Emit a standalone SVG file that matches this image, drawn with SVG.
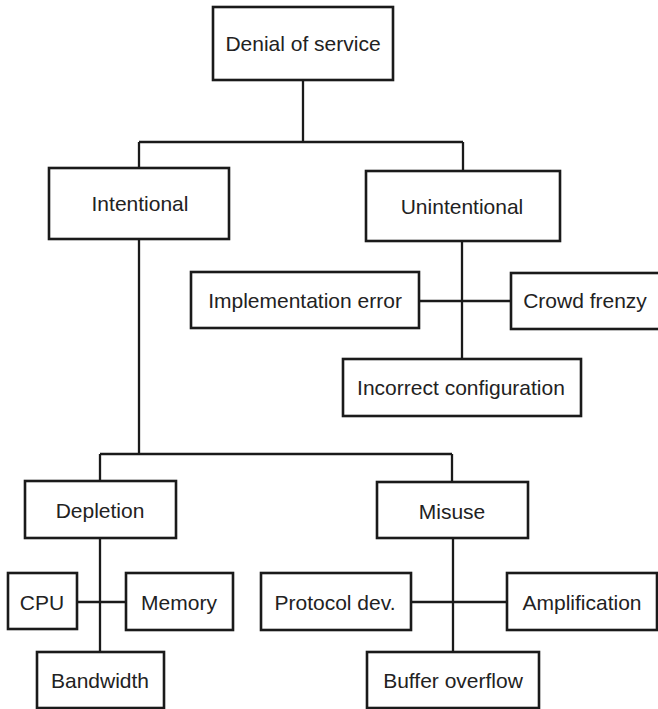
<svg xmlns="http://www.w3.org/2000/svg" width="658" height="709" viewBox="0 0 658 709">
<style>
.box{fill:#fff;stroke:#1a1a1a;stroke-width:2.6}
.lbl{font-family:"Liberation Sans",Arial,sans-serif;font-size:21px;fill:#222;text-anchor:middle;dominant-baseline:central}
.con{fill:none;stroke:#1a1a1a;stroke-width:2.3}
</style>
<rect width="658" height="709" fill="#fff"/>
<g id="connectors">
<path class="con" d="M303 80V142M139 142H463M139 142V168M463 142V171"/>
<path class="con" d="M462 241V359M419 301H511"/>
<path class="con" d="M139 239V454M100 454H452M100 454V481M452 454V482"/>
<path class="con" d="M100 538V652M77 602H126"/>
<path class="con" d="M453 538V652M411 602H507"/>
</g>
<g id="n-dos"><rect class="box" x="213" y="7" width="180" height="73"/><text class="lbl" x="303" y="43">Denial of service</text></g>
<g id="n-intentional"><rect class="box" x="49" y="168" width="180" height="71"/><text class="lbl" x="140" y="203">Intentional</text></g>
<g id="n-unintentional"><rect class="box" x="366" y="171" width="194" height="70"/><text class="lbl" x="462" y="206">Unintentional</text></g>
<g id="n-impl"><rect class="box" x="191" y="272" width="228" height="56"/><text class="lbl" x="305" y="300">Implementation error</text></g>
<g id="n-crowd"><rect class="box" x="511" y="273" width="152" height="56"/><text class="lbl" x="585" y="300">Crowd frenzy</text></g>
<g id="n-incorrect"><rect class="box" x="343" y="359" width="238" height="57"/><text class="lbl" x="461" y="387">Incorrect configuration</text></g>
<g id="n-depletion"><rect class="box" x="25" y="481" width="151" height="57"/><text class="lbl" x="100" y="510">Depletion</text></g>
<g id="n-misuse"><rect class="box" x="377" y="482" width="151" height="56"/><text class="lbl" x="452" y="511">Misuse</text></g>
<g id="n-cpu"><rect class="box" x="8" y="573" width="69" height="56"/><text class="lbl" x="42" y="602">CPU</text></g>
<g id="n-memory"><rect class="box" x="126" y="573" width="107" height="57"/><text class="lbl" x="179" y="602">Memory</text></g>
<g id="n-bandwidth"><rect class="box" x="37" y="652" width="127" height="56"/><text class="lbl" x="100" y="680">Bandwidth</text></g>
<g id="n-protocol"><rect class="box" x="261" y="573" width="150" height="57"/><text class="lbl" x="335" y="602">Protocol dev.</text></g>
<g id="n-amplification"><rect class="box" x="507" y="573" width="150" height="57"/><text class="lbl" x="582" y="602">Amplification</text></g>
<g id="n-buffer"><rect class="box" x="367" y="652" width="172" height="56"/><text class="lbl" x="453" y="680">Buffer overflow</text></g>
</svg>
